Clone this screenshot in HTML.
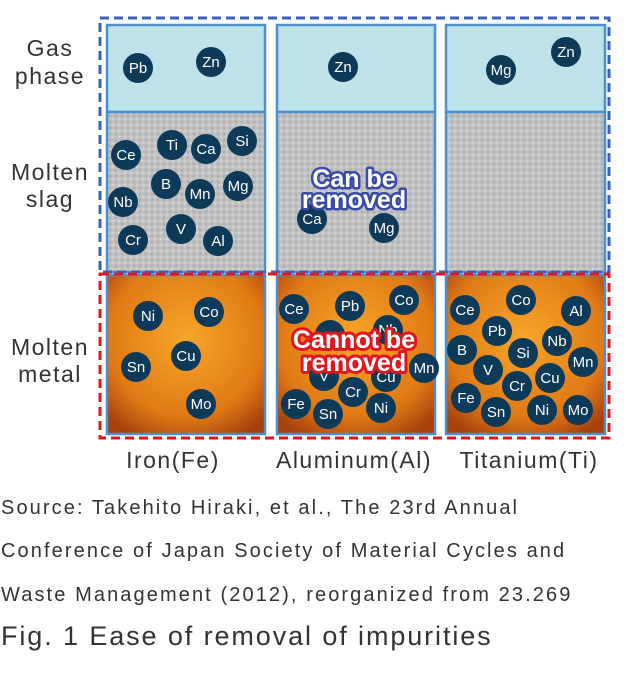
<!DOCTYPE html>
<html><head><style>
body{margin:0;width:630px;height:675px;background:#fff;overflow:hidden;font-family:"Liberation Sans",sans-serif}
.src{position:absolute;left:1px;font-size:20px;color:#333;letter-spacing:2.1px;white-space:nowrap}
</style></head><body>
<svg width="630" height="480" style="position:absolute;left:0;top:0" font-family="Liberation Sans, sans-serif">
<defs>
<pattern id="slag" width="6" height="6" patternUnits="userSpaceOnUse"><rect width="6" height="6" fill="#c2c2c2"/><circle cx="2" cy="2" r="1.4" fill="#adadad"/><circle cx="5" cy="5" r="1" fill="#d8d8d8"/></pattern>
<radialGradient id="fire" cx="50%" cy="40%" r="70%"><stop offset="0" stop-color="#f7a52a"/><stop offset="0.7" stop-color="#e07a16"/><stop offset="1" stop-color="#a8400c"/></radialGradient>
</defs>
<g stroke="#4a90d0" stroke-width="2.5">
<rect x="107" y="25" width="158" height="87" fill="#bfe3ea"/>
<rect x="277" y="25" width="158" height="87" fill="#bfe3ea"/>
<rect x="446" y="25" width="159" height="87" fill="#bfe3ea"/>
<rect x="107" y="112" width="158" height="160" fill="url(#slag)"/>
<rect x="277" y="112" width="158" height="160" fill="url(#slag)"/>
<rect x="446" y="112" width="159" height="160" fill="url(#slag)"/>
<rect x="107" y="275" width="158" height="159" fill="url(#fire)"/>
<rect x="277" y="275" width="158" height="159" fill="url(#fire)"/>
<rect x="446" y="275" width="159" height="159" fill="url(#fire)"/>
</g>
<rect x="100" y="18" width="509" height="254" fill="none" stroke="#3a62b8" stroke-width="3" stroke-dasharray="9,5"/>
<rect x="100" y="274" width="509" height="164" fill="none" stroke="#e0181e" stroke-width="3" stroke-dasharray="9,5"/>
<g fill="#333" font-size="23" text-anchor="middle" letter-spacing="1.5">
<text x="50" y="56">Gas</text><text x="50" y="84">phase</text>
<text x="50" y="180">Molten</text><text x="50" y="207">slag</text>
<text x="50" y="355">Molten</text><text x="50" y="382">metal</text>
<text x="173" y="468">Iron(Fe)</text><text x="354" y="468">Aluminum(Al)</text><text x="529" y="468">Titanium(Ti)</text>
</g>
<g font-size="15" text-anchor="middle" fill="#fff">
<g fill="#0e3a5a" stroke="none">
<circle cx="138" cy="68" r="15"/><circle cx="211" cy="62" r="15"/>
<circle cx="126" cy="155" r="15"/><circle cx="172" cy="145" r="15"/><circle cx="206" cy="149" r="15"/><circle cx="242" cy="141" r="15"/><circle cx="166" cy="184" r="15"/><circle cx="200" cy="194" r="15"/><circle cx="238" cy="186" r="15"/><circle cx="123" cy="202" r="15"/><circle cx="181" cy="229" r="15"/><circle cx="133" cy="240" r="15"/><circle cx="218" cy="241" r="15"/>
<circle cx="148" cy="316" r="15"/><circle cx="209" cy="312" r="15"/><circle cx="186" cy="356" r="15"/><circle cx="136" cy="367" r="15"/><circle cx="201" cy="404" r="15"/>
<circle cx="343" cy="67" r="15"/><circle cx="312" cy="219" r="15"/><circle cx="384" cy="228" r="15"/>
<circle cx="294" cy="309" r="15"/><circle cx="350" cy="306" r="15"/><circle cx="404" cy="300" r="15"/><circle cx="330" cy="335" r="15"/><circle cx="388" cy="330" r="15"/><circle cx="324" cy="376" r="15"/><circle cx="386" cy="377" r="15"/><circle cx="424" cy="368" r="15"/><circle cx="353" cy="392" r="15"/><circle cx="296" cy="404" r="15"/><circle cx="328" cy="414" r="15"/><circle cx="381" cy="408" r="15"/>
<circle cx="501" cy="70" r="15"/><circle cx="566" cy="52" r="15"/>
<circle cx="465" cy="310" r="15"/><circle cx="521" cy="300" r="15"/><circle cx="576" cy="311" r="15"/><circle cx="497" cy="331" r="15"/><circle cx="557" cy="341" r="15"/><circle cx="462" cy="350" r="15"/><circle cx="523" cy="353" r="15"/><circle cx="583" cy="362" r="15"/><circle cx="488" cy="370" r="15"/><circle cx="550" cy="378" r="15"/><circle cx="517" cy="386" r="15"/><circle cx="466" cy="398" r="15"/><circle cx="496" cy="412" r="15"/><circle cx="542" cy="410" r="15"/><circle cx="578" cy="410" r="15"/>
</g>
<text x="138" y="73">Pb</text><text x="211" y="67">Zn</text>
<text x="126" y="160">Ce</text><text x="172" y="150">Ti</text><text x="206" y="154">Ca</text><text x="242" y="146">Si</text><text x="166" y="189">B</text><text x="200" y="199">Mn</text><text x="238" y="191">Mg</text><text x="123" y="207">Nb</text><text x="181" y="234">V</text><text x="133" y="245">Cr</text><text x="218" y="246">Al</text>
<text x="148" y="321">Ni</text><text x="209" y="317">Co</text><text x="186" y="361">Cu</text><text x="136" y="372">Sn</text><text x="201" y="409">Mo</text>
<text x="343" y="72">Zn</text><text x="312" y="224">Ca</text><text x="384" y="233">Mg</text>
<text x="294" y="314">Ce</text><text x="350" y="311">Pb</text><text x="404" y="305">Co</text><text x="388" y="335">Nb</text><text x="324" y="381">V</text><text x="386" y="382">Cu</text><text x="424" y="373">Mn</text><text x="353" y="397">Cr</text><text x="296" y="409">Fe</text><text x="328" y="419">Sn</text><text x="381" y="413">Ni</text>
<text x="501" y="75">Mg</text><text x="566" y="57">Zn</text>
<text x="465" y="315">Ce</text><text x="521" y="305">Co</text><text x="576" y="316">Al</text><text x="497" y="336">Pb</text><text x="557" y="346">Nb</text><text x="462" y="355">B</text><text x="523" y="358">Si</text><text x="583" y="367">Mn</text><text x="488" y="375">V</text><text x="550" y="383">Cu</text><text x="517" y="391">Cr</text><text x="466" y="403">Fe</text><text x="496" y="417">Sn</text><text x="542" y="415">Ni</text><text x="578" y="415">Mo</text>
</g>
<g font-size="25" font-weight="bold" text-anchor="middle" stroke-linejoin="round" paint-order="stroke">
<text x="354" y="187" fill="#fff" stroke="#3a4aa8" stroke-width="5">Can be</text>
<text x="354" y="208" fill="#fff" stroke="#3a4aa8" stroke-width="5">removed</text>
<text x="354" y="348" fill="#fff" stroke="#e0181e" stroke-width="6">Cannot be</text>
<text x="354" y="371" fill="#fff" stroke="#e0181e" stroke-width="6">removed</text>
</g>
</svg>
<div class="src" style="top:497px">Source: Takehito Hiraki, et al., The 23rd Annual</div>
<div class="src" style="top:540px">Conference of Japan Society of Material Cycles and</div>
<div class="src" style="top:584px">Waste Management (2012), reorganized from 23.269</div>
<div class="src" style="top:621px;font-size:27px;letter-spacing:1.9px">Fig. 1 Ease of removal of impurities</div>
</body></html>
